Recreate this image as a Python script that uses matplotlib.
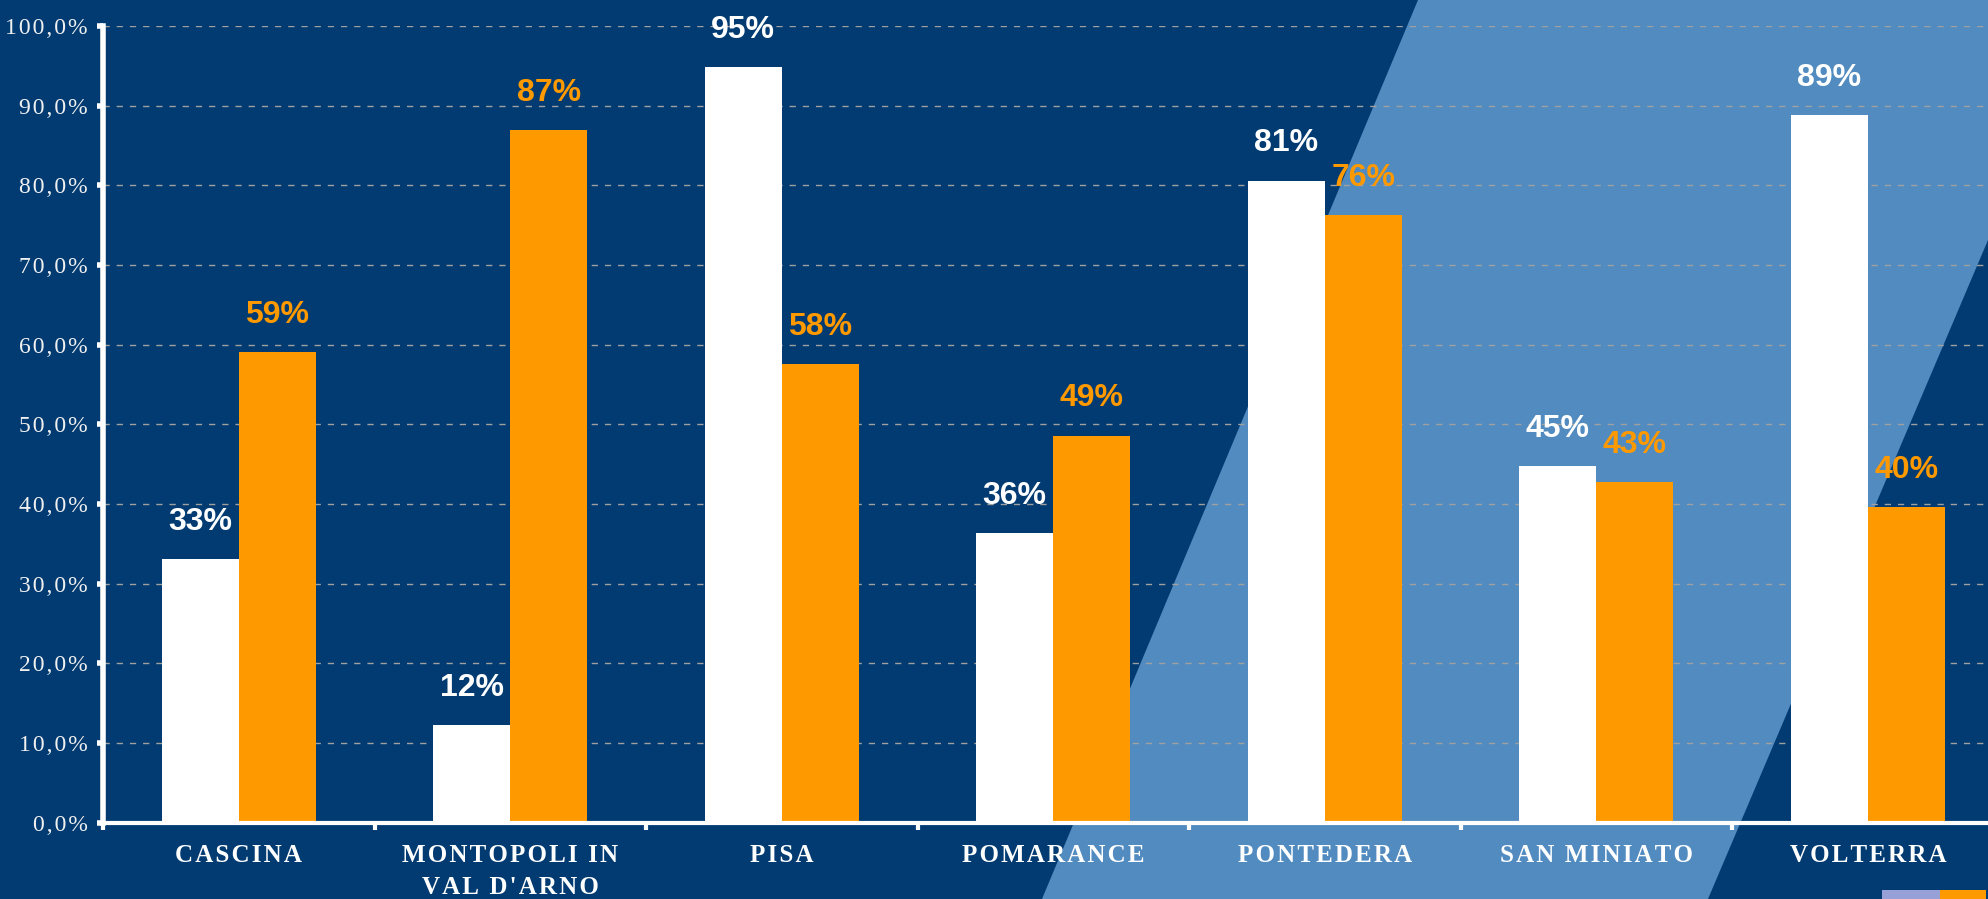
import numpy as np
import matplotlib
matplotlib.use('Agg')
import matplotlib.pyplot as plt
from matplotlib.patches import Polygon, Rectangle

# dati (percentuali)
comuni = ['CASCINA', "MONTOPOLI IN\nVAL D'ARNO", 'PISA', 'POMARANCE',
          'PONTEDERA', 'SAN MINIATO', 'VOLTERRA']
serie_bianca = [33.1, 12.3, 94.8, 36.3, 80.6, 44.8, 88.8]
serie_arancio = [59.1, 86.9, 57.6, 48.6, 76.3, 42.8, 39.6]
y_ticks = [0, 10, 20, 30, 40, 50, 60, 70, 80, 90, 100]

NAVY = '#013B72'
STRIPE = '#518BC0'
ORANGE = '#FF9900'
W, H = 1988, 899


def spaziato(s, sp='\u200a'):
    # finto letter-spacing con spazi sottili
    return '\n'.join(sp.join(riga) for riga in s.split('\n'))


def px(x, y):
    return (x / W, 1 - y / H)


def main():
    fig = plt.figure(figsize=(W / 100, H / 100), dpi=100, facecolor=NAVY)

    # fascia diagonale chiara sullo sfondo
    fig.add_artist(Polygon([px(1418, 0), px(2090, 0), px(1708, 899), px(1042, 899)],
                           closed=True, transform=fig.transFigure,
                           facecolor=STRIPE, edgecolor='none', zorder=-1))
    # pezzo di legenda tagliato in basso a destra
    fig.add_artist(Rectangle(px(1882, 899), 58 / W, 9 / H, transform=fig.transFigure,
                             facecolor='#98A0D8', edgecolor='none', zorder=-1))
    fig.add_artist(Rectangle(px(1940, 899), 46 / W, 9 / H, transform=fig.transFigure,
                             facecolor=ORANGE, edgecolor='none', zorder=-1))

    ax = fig.add_axes([103 / W, 76.3 / H, 1900.5 / W, 796.7 / H])
    ax.set_facecolor('none')

    x = np.arange(len(comuni))
    w = 0.284
    ax.bar(x - w / 2, serie_bianca, w, color='white', zorder=3)
    ax.bar(x + w / 2, serie_arancio, w, color=ORANGE, zorder=3)

    for xi, v in zip(x - w / 2, serie_bianca):
        ax.annotate('%.0f%%' % v, (xi, v), xytext=(0, 21), textcoords='offset points',
                    ha='center', va='baseline', fontsize=23, fontweight='bold',
                    color='white', family='Liberation Sans', zorder=4)
    for xi, v in zip(x + w / 2, serie_arancio):
        ax.annotate('%.0f%%' % v, (xi, v), xytext=(0, 21), textcoords='offset points',
                    ha='center', va='baseline', fontsize=23, fontweight='bold',
                    color=ORANGE, family='Liberation Sans', zorder=4)

    ax.set_xlim(-0.5, 6.5)
    ax.set_ylim(0, 100)

    for s in ['top', 'right']:
        ax.spines[s].set_visible(False)
    ax.spines['left'].set_color('white')
    ax.spines['left'].set_linewidth(4)
    ax.spines['bottom'].set_color('white')
    ax.spines['bottom'].set_linewidth(3)
    ax.spines['left'].set_zorder(5)
    ax.spines['bottom'].set_zorder(5)

    ax.set_yticks(y_ticks)
    ax.set_yticklabels([spaziato(('%.1f%%' % t).replace('.', ',')) for t in y_ticks],
                       family=['Liberation Serif', 'DejaVu Serif'], fontsize=17,
                       color='#F0F0F0')
    ax.tick_params(axis='y', color='white', length=4, width=4, pad=7)

    ax.set_xticks(x)
    ax.set_xticklabels([spaziato(c) for c in comuni], fontsize=18, fontweight='bold',
                       family=['Liberation Serif', 'DejaVu Serif'], color='white',
                       linespacing=1.55, va='top')
    ax.tick_params(axis='x', which='major', length=0, pad=15)
    ax.set_xticks(np.arange(-0.5, len(comuni), 1), minor=True)
    ax.tick_params(axis='x', which='minor', length=5, width=3, color='white')

    ax.yaxis.grid(True, color='#A0A0A0', linewidth=1, linestyle=(0, (4.5, 5)))
    ax.set_axisbelow(True)

    fig.savefig('out.png', dpi=100, facecolor=fig.get_facecolor())


if __name__ == '__main__':
    main()
